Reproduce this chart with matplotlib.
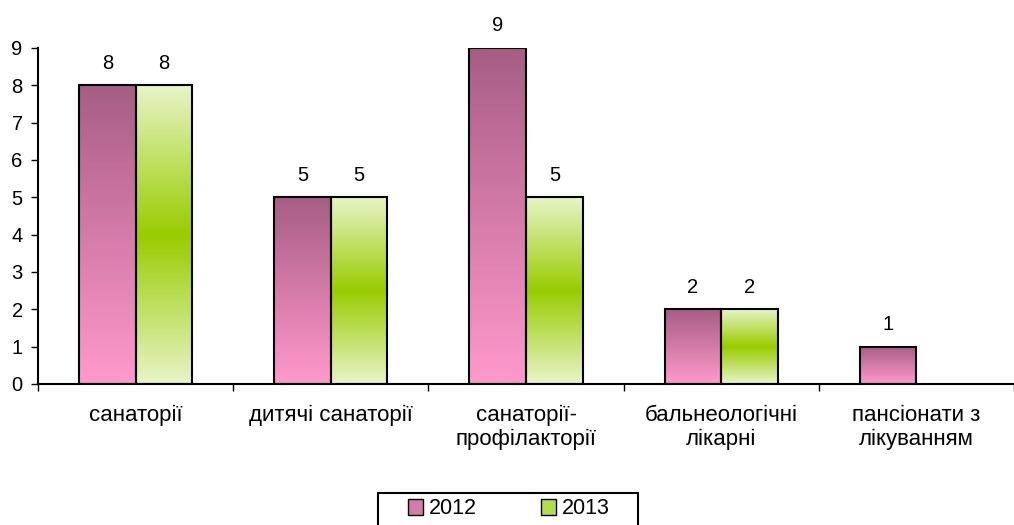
import numpy as np
import matplotlib
matplotlib.use('Agg')
import matplotlib.pyplot as plt
from matplotlib.colors import LinearSegmentedColormap
from matplotlib.patches import Patch, Rectangle

plt.rcParams['font.family'] = ['Liberation Sans', 'DejaVu Sans']

categories = ['санаторії', 'дитячі санаторії', 'санаторії-\nпрофілакторії',
              'бальнеологічні\nлікарні', 'пансіонати з\nлікуванням']
v2012 = [8, 5, 9, 2, 1]
v2013 = [8, 5, 5, 2, 0]

# gradients (top -> bottom)
cmap12 = LinearSegmentedColormap.from_list('c12', ['#A65E84', '#D47BA8', '#FF99CC'])
cmap13 = LinearSegmentedColormap.from_list('c13', ['#E8F4C8', '#99CC00', '#E8F4C8'])

fs = 14.5
fig = plt.figure(figsize=(10.14, 5.25), dpi=100)
ax = fig.add_axes([0.0375, 0.2686, 0.9625, 0.64])

x = np.arange(len(categories))
w = 0.29
grad = np.linspace(0, 1, 256).reshape(-1, 1)


def gradient_bars(xs, vals, cmap):
    bars = ax.bar(xs, vals, w, facecolor='none', edgecolor='black', linewidth=1.5, zorder=3)
    for b, v in zip(bars, vals):
        if v <= 0:
            b.set_visible(False)
            continue
        x0, y0 = b.get_x(), b.get_y()
        im = ax.imshow(grad, cmap=cmap, aspect='auto', origin='upper',
                       extent=[x0, x0 + b.get_width(), y0, y0 + b.get_height()], zorder=2)
        im.set_clip_path(b)
        ax.annotate(str(v), (x0 + b.get_width() / 2, v), xytext=(0, 9),
                    textcoords='offset points', ha='center', va='bottom', fontsize=fs)
    return bars


gradient_bars(x - w / 2, v2012, cmap12)
gradient_bars(x + w / 2, v2013, cmap13)

ax.set_xlim(-0.5, len(categories) - 0.5)
ax.set_ylim(0, 9)
ax.set_yticks(range(10))
ax.tick_params(axis='y', direction='out', length=5, width=1, labelsize=fs, pad=6)
ax.set_xticks(x)
ax.set_xticklabels(categories, fontsize=16, linespacing=1.2)
ax.tick_params(axis='x', which='major', length=0, pad=15)
ax.set_xticks(np.arange(-0.5, len(categories), 1), minor=True)
ax.tick_params(axis='x', which='minor', direction='out', length=5, width=1)
for s in ['top', 'right']:
    ax.spines[s].set_visible(False)
ax.spines['left'].set_linewidth(1.5)
ax.spines['bottom'].set_linewidth(1.5)

handles = [Patch(facecolor='#D47BA8', edgecolor='black', label='2012'),
           Patch(facecolor='#B5DB50', edgecolor='black', label='2013')]
leg = fig.legend(handles=handles, loc='center', bbox_to_anchor=(509 / 1014, 1 - 509 / 525), ncol=2,
                 frameon=False, fontsize=15.5,
                 handlelength=0.7, handleheight=0.7, handletextpad=0.25,
                 columnspacing=3.0, borderpad=0, borderaxespad=0)
fig.patches.append(Rectangle((378 / 1014, -0.02), 260 / 1014, (525 - 493) / 525 + 0.02,
                             transform=fig.transFigure, fill=False, edgecolor='black', linewidth=1.5))

fig.savefig('out.png', dpi=100)
